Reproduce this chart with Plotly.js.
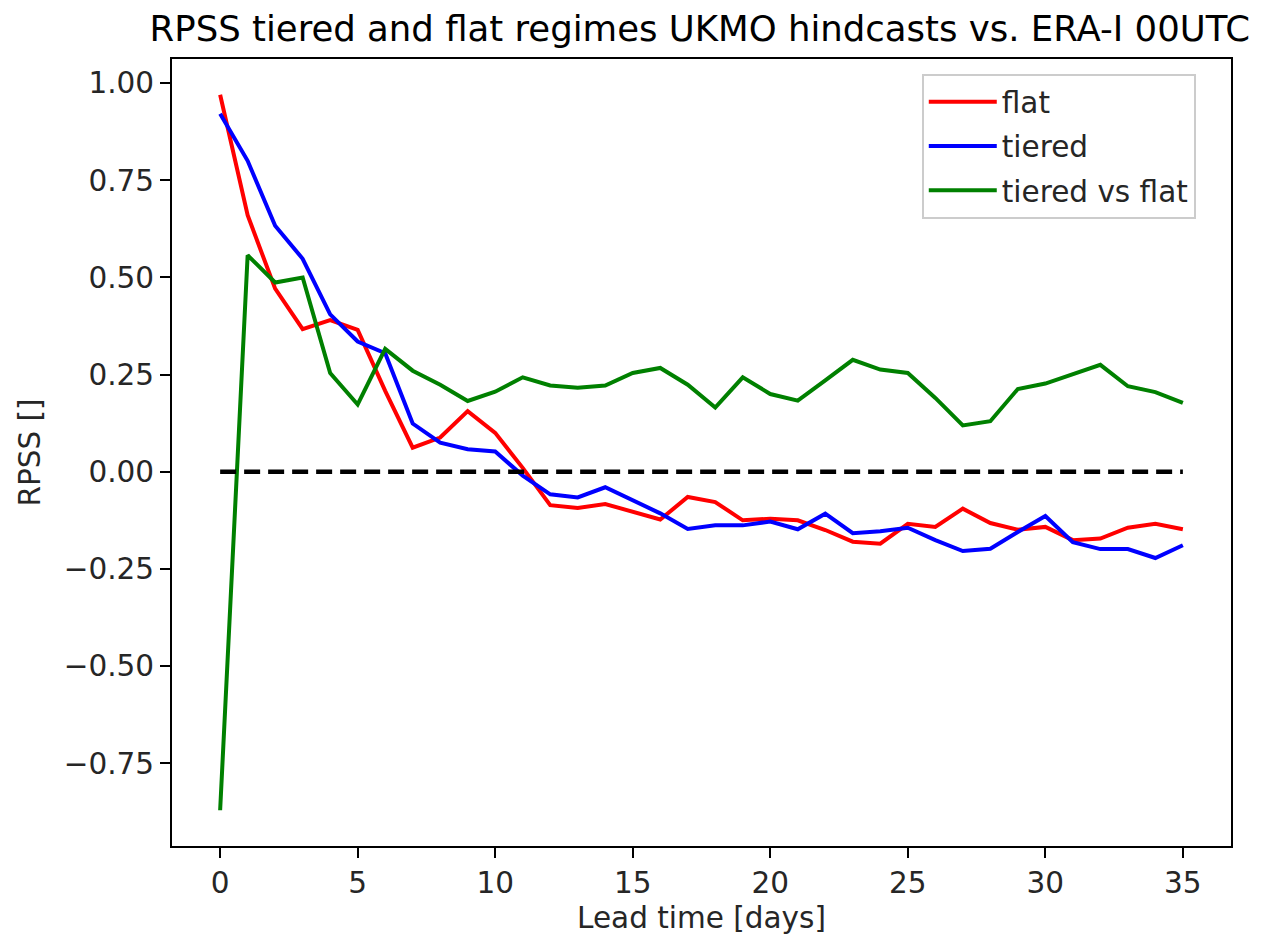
<!DOCTYPE html>
<html>
<head>
<meta charset="utf-8">
<script src="https://cdn.plot.ly/plotly-3.0.1.min.js"></script>
<style>html,body{margin:0;padding:0;background:#fff;}#chart{width:1261px;height:938px;}</style>
</head>
<body>
<div id="chart"></div>
<script>
const leadDays = [0,1,2,3,4,5,6,7,8,9,10,11,12,13,14,15,16,17,18,19,20,21,22,23,24,25,26,27,28,29,30,31,32,33,34,35];

const flatRPSS = [0.970,0.660,0.471,0.367,0.390,0.365,0.208,0.062,0.088,0.156,0.100,0.010,-0.086,-0.093,-0.083,-0.104,-0.123,-0.065,-0.078,-0.125,-0.121,-0.125,-0.150,-0.180,-0.185,-0.134,-0.142,-0.095,-0.132,-0.149,-0.142,-0.176,-0.172,-0.144,-0.134,-0.148];

const tieredRPSS = [0.921,0.800,0.633,0.548,0.405,0.335,0.305,0.124,0.075,0.058,0.052,-0.010,-0.058,-0.066,-0.040,-0.074,-0.107,-0.147,-0.138,-0.138,-0.128,-0.148,-0.108,-0.158,-0.153,-0.144,-0.176,-0.204,-0.198,-0.155,-0.114,-0.181,-0.199,-0.199,-0.222,-0.189];

const tieredVsFlatRPSS = [-0.871,0.557,0.487,0.500,0.254,0.173,0.316,0.260,0.224,0.182,0.206,0.243,0.222,0.216,0.222,0.254,0.267,0.224,0.165,0.243,0.200,0.183,0.235,0.288,0.263,0.254,0.190,0.119,0.130,0.213,0.227,0.252,0.275,0.220,0.205,0.177];

const zeroLineX = [0, 35];
const zeroLineY = [0, 0];

const yTickVals = [-0.75,-0.50,-0.25,0.00,0.25,0.50,0.75,1.00];
const xTickVals = [0,5,10,15,20,25,30,35];

const FONT = 'DejaVu Sans, Liberation Sans, sans-serif';

const traces = [
  {x: leadDays, y: flatRPSS, type: 'scatter', mode: 'lines', name: 'flat',
   line: {color: '#ff0000', width: 4}, legendgroup: 'a'},
  {x: leadDays, y: tieredRPSS, type: 'scatter', mode: 'lines', name: 'tiered',
   line: {color: '#0000ff', width: 4}, legendgroup: 'b'},
  {x: leadDays, y: tieredVsFlatRPSS, type: 'scatter', mode: 'lines', name: 'tiered vs flat',
   line: {color: '#008000', width: 4}, legendgroup: 'c'},
  {x: zeroLineX, y: zeroLineY, type: 'scatter', mode: 'lines', showlegend: false,
   line: {color: '#000000', width: 4.5, dash: '16px,8px'}}
];

const layout = {
  width: 1261, height: 938,
  paper_bgcolor: '#ffffff', plot_bgcolor: '#ffffff',
  margin: {l: 172, r: 30, t: 59, b: 92},
  font: {family: FONT, size: 30, color: '#000000'},
  title: {text: 'RPSS tiered and flat regimes UKMO hindcasts vs. ERA-I 00UTC',
          font: {family: FONT, size: 35.5, color: '#000000'},
          x: 0.555, xanchor: 'center', xref: 'container', y: 0.970, yref: 'container', yanchor: 'middle'},
  xaxis: {
    range: [-1.75, 36.75], tickvals: xTickVals, ticktext: xTickVals.map(String),
    showgrid: false, zeroline: false, showline: true, mirror: true,
    linecolor: '#000000', linewidth: 2, ticks: 'outside', ticklen: 10, tickwidth: 2, tickcolor: '#000000',
    tickfont: {family: FONT, size: 29.5, color: '#262626'},
    title: {text: 'Lead time [days]', font: {family: FONT, size: 29.5, color: '#262626'}, standoff: 8}
  },
  yaxis: {
    range: [-0.963, 1.062], tickvals: yTickVals, tickformat: '.2f',
    showgrid: false, zeroline: false, showline: true, mirror: true,
    linecolor: '#000000', linewidth: 2, ticks: 'outside', ticklen: 10, tickwidth: 2, tickcolor: '#000000',
    tickfont: {family: FONT, size: 29.5, color: '#262626'},
    title: {text: 'RPSS []', font: {family: FONT, size: 29.5, color: '#262626'}, standoff: 14}
  },
  showlegend: true,
  legend: {
    x: 0.708, y: 0.981, xanchor: 'left', yanchor: 'top',
    bgcolor: 'rgba(255,255,255,0.8)', bordercolor: '#cccccc', borderwidth: 2,
    font: {family: FONT, size: 29.5, color: '#262626'},
    traceorder: 'grouped', tracegroupgap: 3, itemwidth: 68
  }
};

Plotly.newPlot('chart', traces, layout, {displayModeBar: false, staticPlot: true});
</script>
</body>
</html>
